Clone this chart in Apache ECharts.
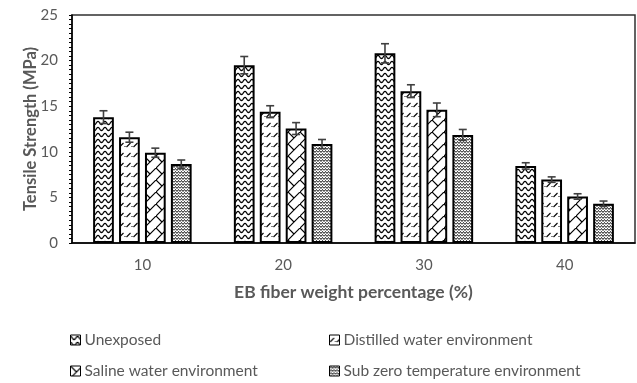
<!DOCTYPE html>
<html>
<head>
<meta charset="utf-8">
<script src="https://cdn.jsdelivr.net/npm/echarts@6/dist/echarts.min.js"></script>
<style>
html,body{margin:0;padding:0;background:#fff;}
#chart{width:637px;height:383px;}
</style>
</head>
<body>
<div id="chart"></div>
<script>
// ---- data ----
const categories = ['10', '20', '30', '40'];
const seriesNames = ['Unexposed', 'Distilled water environment', 'Saline water environment', 'Sub zero temperature environment'];
const unexposed = [13.8, 19.5, 20.8, 8.45];
const distilled = [11.6, 14.4, 16.65, 6.95];
const saline = [9.9, 12.55, 14.6, 5.1];
const subzero = [8.65, 10.85, 11.85, 4.3];
const unexposedErr = [0.7, 0.95, 1.05, 0.35];
const distilledErr = [0.55, 0.65, 0.7, 0.3];
const salineErr = [0.5, 0.65, 0.75, 0.3];
const subzeroErr = [0.45, 0.5, 0.6, 0.3];
const yTicks = [0, 5, 10, 15, 20, 25];

const values = [unexposed, distilled, saline, subzero];
const errors = [unexposedErr, distilledErr, salineErr, subzeroErr];

// ---- patterns ----
function makePattern(w, h, draw) {
  const c = document.createElement('canvas');
  c.width = w; c.height = h;
  const ctx = c.getContext('2d');
  ctx.fillStyle = '#fff';
  ctx.fillRect(0, 0, w, h);
  ctx.strokeStyle = '#000';
  ctx.fillStyle = '#000';
  ctx.lineWidth = 1;
  draw(ctx, w, h);
  return { image: c, repeat: 'repeat' };
}
const patWave = makePattern(7, 6, (ctx, w) => {
  ctx.lineWidth = 1.2;
  ctx.beginPath();
  for (let x = -0.5; x <= w + 0.5; x += 0.5) {
    const y = 3 - 1.6 * Math.cos(2 * Math.PI * x / w);
    if (x === -0.5) ctx.moveTo(x, y); else ctx.lineTo(x, y);
  }
  ctx.stroke();
});
const patDash = makePattern(7, 10, (ctx) => {
  ctx.lineWidth = 1.1;
  ctx.beginPath();
  ctx.moveTo(0.5, 7); ctx.lineTo(4.5, 3);
  ctx.stroke();
  ctx.fillRect(5.5, 6, 1, 1);
});
const patBrick = makePattern(12, 12, (ctx) => {
  ctx.lineWidth = 1.2;
  ctx.beginPath();
  ctx.moveTo(-1, 13); ctx.lineTo(13, -1);
  ctx.moveTo(0, 0); ctx.lineTo(6, 6);
  ctx.stroke();
});
const patDense = makePattern(6, 6, (ctx) => {
  ctx.lineWidth = 0.9;
  ctx.beginPath();
  ctx.moveTo(0, 2.5); ctx.lineTo(1.5, 0.5); ctx.lineTo(3, 2.5); ctx.lineTo(4.5, 0.5); ctx.lineTo(6, 2.5);
  ctx.moveTo(-1.5, 3.5); ctx.lineTo(0, 5.5); ctx.lineTo(1.5, 3.5); ctx.lineTo(3, 5.5); ctx.lineTo(4.5, 3.5); ctx.lineTo(6, 5.5); ctx.lineTo(7.5, 3.5);
  ctx.stroke();
});
const patterns = [patWave, patDash, patBrick, patDense];

// ---- chart ----
const chart = echarts.init(document.getElementById('chart'), null, { renderer: 'canvas' });
const font = 'Lato';
const textColor = '#595959';
const barCategoryGap = 0.30, barGap = 0.25, nBars = 4;

const barSeries = seriesNames.map((name, i) => ({
  name: name,
  type: 'bar',
  data: values[i],
  barGap: (barGap * 100) + '%',
  barCategoryGap: (barCategoryGap * 100) + '%',
  itemStyle: { color: patterns[i], borderColor: '#000', borderWidth: 2 },
  emphasis: { disabled: true },
  z: 2
}));

const errSeries = seriesNames.map((name, i) => ({
  type: 'custom',
  name: name + ' err',
  data: categories.map((c, k) => [k, values[i][k], errors[i][k]]),
  z: 5,
  silent: true,
  renderItem: function (params, api) {
    const k = api.value(0), v = api.value(1), e = api.value(2);
    const band = api.size([1, 0])[0];
    const w = band * (1 - barCategoryGap) / (nBars + (nBars - 1) * barGap);
    const offset = -band * (1 - barCategoryGap) / 2 + i * w * (1 + barGap) + w / 2;
    const top = api.coord([k, v + e]);
    const bot = api.coord([k, v - e]);
    const cx = top[0] + offset;
    const cap = 4;
    const style = { stroke: '#404040', lineWidth: 1.6 };
    return {
      type: 'group',
      children: [
        { type: 'line', shape: { x1: cx, y1: top[1], x2: cx, y2: bot[1] }, style: style },
        { type: 'line', shape: { x1: cx - cap, y1: top[1], x2: cx + cap, y2: top[1] }, style: style },
        { type: 'line', shape: { x1: cx - cap, y1: bot[1], x2: cx + cap, y2: bot[1] }, style: style }
      ]
    };
  }
}));

function legendAt(name, left, top) {
  return {
    data: [name], left: left, top: top, padding: 0,
    itemWidth: 10, itemHeight: 10, itemGap: 4,
    icon: 'rect',
    itemStyle: { borderWidth: 1, borderColor: '#000' },
    textStyle: { fontFamily: font, fontSize: 15.5, color: textColor, padding: [0, 0, 0, -1] },
    selectedMode: false
  };
}

chart.setOption({
  animation: false,
  backgroundColor: '#fff',
  grid: { left: 72, right: 2, top: 15, bottom: 140, show: true, borderColor: '#303030', borderWidth: 1.5 },
  legend: [
    legendAt(seriesNames[0], 70, 332),
    legendAt(seriesNames[1], 329, 332),
    legendAt(seriesNames[2], 70, 363),
    legendAt(seriesNames[3], 329, 363)
  ],
  xAxis: {
    type: 'category',
    data: categories,
    axisLine: { lineStyle: { color: '#000', width: 1.5 } },
    axisTick: { show: false },
    axisLabel: { fontFamily: font, fontSize: 15, color: textColor, margin: 15 },
    name: 'EB fiber weight percentage (%)',
    nameLocation: 'middle',
    nameGap: 40,
    nameMoveOverlap: false,
    nameTextStyle: { fontFamily: font, fontSize: 17.5, fontWeight: 'bold', color: textColor }
  },
  yAxis: {
    type: 'value',
    min: yTicks[0], max: yTicks[yTicks.length - 1], interval: 5,
    axisLine: { show: true, lineStyle: { color: '#000', width: 1.5 } },
    axisTick: { show: true, length: 3, lineStyle: { color: '#000' } },
    minorTick: { show: true, splitNumber: 10, length: 3, lineStyle: { color: '#000' } },
    splitLine: { show: false },
    axisLabel: { fontFamily: font, fontSize: 15, color: textColor, margin: 14 },
    name: 'Tensile Strength (MPa)',
    nameLocation: 'middle',
    nameGap: 33,
    nameMoveOverlap: false,
    nameTextStyle: { fontFamily: font, fontSize: 16.5, fontWeight: 'bold', color: textColor }
  },
  series: barSeries.concat(errSeries)
});
</script>
</body>
</html>
